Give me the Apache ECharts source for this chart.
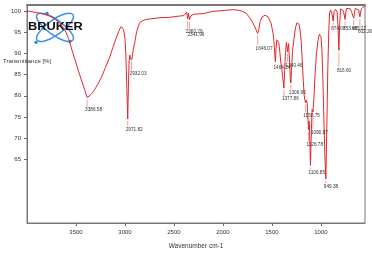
<!DOCTYPE html>
<html>
<head>
<meta charset="utf-8">
<script src="https://cdn.jsdelivr.net/npm/echarts@6/dist/echarts.min.js"></script>
<style>
  html, body { margin: 0; padding: 0; background: #fff; }
  #chart { width: 372px; height: 257px; }
</style>
</head>
<body>
<div id="chart"></div>
<script>
// spectrum (wavenumber cm-1 / transmittance %)
const wavenumbers = [4000,3900,3834,3770,3714,3660,3612,3575,3544,3510,3477,3440,3408,3386.58,3360,3330,3306,3270,3238,3200,3153,3120,3085,3060,3040,3030,3015,3000,2990,2980,2971.82,2965,2958,2950,2945,2940,2932.03,2925,2915,2900,2885,2870,2850,2820,2780,2714,2643,2541,2440,2400,2380,2370,2360.29,2352,2341.96,2330,2300,2200,2100,2000,1900,1850,1800,1760,1730,1700,1680,1660,1646.07,1635,1620,1600,1570,1540,1510,1490,1480,1470,1464.24,1458,1450,1440,1430,1420,1410,1400,1390,1377.86,1370,1362,1352,1340.46,1330,1320,1312,1306.95,1300,1290,1275,1260,1245,1235,1222,1210,1200,1190,1180,1170,1158.75,1150,1140,1126.78,1118,1106.85,1097,1090,1080.87,1070,1060,1045,1030,1015,1000,990,980,970,960,949.38,940,930,920,912,900,888,874.68,866,850,835,825,816.60,810,800,785,770,753.48,740,720,700,685,665.22,650,630,615,602.26,590,575,550];
const transmittance = [100.0,99.6,99.3,98.8,98.1,97.0,95.5,93.5,91.0,88.5,86.0,83.4,81.2,79.6,80.0,80.8,81.6,83.0,84.5,86.6,89.3,91.6,93.9,95.4,96.3,96.4,95.6,93.6,89.0,81.0,74.5,82.0,88.2,89.6,88.9,89.3,88.4,89.2,91.0,92.6,94.6,96.0,97.2,97.7,98.0,98.2,98.4,98.5,98.8,98.9,99.3,99.7,98.1,99.5,97.9,98.8,99.2,99.4,99.9,100.1,100.3,100.2,99.9,99.4,98.5,97.4,96.5,95.5,94.7,95.6,97.5,98.6,99.0,98.6,97.2,95.0,93.0,89.6,88.0,91.0,93.2,93.5,92.5,90.5,88.0,86.5,84.5,81.8,86.0,90.0,92.6,90.4,92.3,88.0,84.2,83.0,86.0,90.5,93.5,96.0,97.2,97.4,96.8,95.0,92.5,88.0,83.5,80.0,78.4,79.0,78.2,72.0,74.0,63.6,72.0,76.8,76.2,80.0,85.0,90.0,93.0,94.5,94.0,91.0,84.0,75.0,66.0,60.4,72.0,86.0,95.0,99.5,100.2,99.5,97.6,99.8,100.4,99.8,96.0,90.7,96.0,100.5,100.8,100.0,98.0,100.6,101.0,100.5,99.6,98.3,100.6,101.0,100.2,98.6,100.3,100.8,101.2];

// picked peaks
const peakNames = ['3386.58','2971.82','2932.03','2360.29','2341.96','1646.07','1464.24','1377.86','1340.46','1306.95','1158.75','1126.78','1106.85','1080.87','949.38','874.68','816.60','753.48','665.22','602.26'];

const yTicks = [65, 70, 75, 80, 85, 90, 95, 100];
const xTicks = [1000, 1500, 2000, 2500, 3000, 3500];

// where each peak label sits (transmittance level), layout only
const labelLevel = [76.6,72.1,85.3,95.2,94.5,91.2,86.5,79.2,87.2,80.8,75.4,68.5,61.9,71.4,58.6,95.9,86.0,95.9,95.9,95.0];

const spectrum = wavenumbers.map((w, i) => [w, transmittance[i]]);
const peaks = peakNames.map((n, i) => {
  const w = parseFloat(n);
  const idx = wavenumbers.indexOf(w);
  return [w, transmittance[idx], labelLevel[i]];
});

const font = 'Liberation Sans, Arial, sans-serif';
const plain = v => String(v);
const chart = echarts.init(document.getElementById('chart'));

chart.setOption({
  animation: false,
  backgroundColor: '#fff',
  grid: { left: 27, top: 5, right: 7, bottom: 34, show: true, borderColor: '#777', borderWidth: 1 },
  xAxis: [{
    type: 'value', inverse: true, min: 550, max: 4000,
    name: 'Wavenumber cm-1', nameLocation: 'middle', nameGap: 20,
    nameTextStyle: { fontSize: 6.5, color: '#333', fontFamily: font },
    splitLine: { show: false },
    axisLine: { show: true, lineStyle: { color: '#777' } },
    axisTick: { customValues: xTicks, length: 3, lineStyle: { color: '#666' } },
    axisLabel: { customValues: xTicks, formatter: plain, fontSize: 6, color: '#333', margin: 6, fontFamily: font }
  }, {
    // heavier top frame
    type: 'value', position: 'top', inverse: true, min: 550, max: 4000,
    splitLine: { show: false },
    axisLine: { show: true, lineStyle: { color: '#777', width: 2 } },
    axisTick: { show: false }, axisLabel: { show: false }
  }],
  yAxis: {
    type: 'value', min: 50, max: 101.4,
    splitLine: { show: false },
    axisLine: { show: true, lineStyle: { color: '#777' } },
    axisTick: { customValues: yTicks, length: 3, lineStyle: { color: '#666' } },
    axisLabel: { customValues: yTicks, formatter: plain, fontSize: 6, color: '#333', margin: 6, fontFamily: font }
  },
  graphic: [
    { type: 'text', left: 3, top: 58, z: 10,
      style: { text: 'Transmittance [%]', fontSize: 6, fill: '#333', fontFamily: font } },
    { type: 'group', left: 28, top: 5, z: 5, children: [
      { type: 'ellipse', shape: { cx: 27, cy: 18, rx: 22, ry: 7.5 }, rotation: 0.62, originX: 27, originY: 18,
        style: { fill: 'none', stroke: '#3f8fe0', lineWidth: 1.5 } },
      { type: 'ellipse', shape: { cx: 27, cy: 18, rx: 22, ry: 7.5 }, rotation: -0.62, originX: 27, originY: 18,
        style: { fill: 'none', stroke: '#3f8fe0', lineWidth: 1.5 } },
      { type: 'circle', shape: { cx: 19, cy: 4, r: 1.6 }, style: { fill: '#2f7fd6' } },
      { type: 'circle', shape: { cx: 8, cy: 33, r: 1.6 }, style: { fill: '#2f7fd6' } },
      { type: 'circle', shape: { cx: 42, cy: 32, r: 1.6 }, style: { fill: '#2f7fd6' } },
      { type: 'text', x: 0, y: 18, scaleX: 1.28,
        style: { text: 'BRUKER', fontSize: 10, fontWeight: 'bold', fill: '#111', fontFamily: font, verticalAlign: 'middle' } }
    ] }
  ],
  series: [
    {
      type: 'line', data: spectrum, showSymbol: false, z: 3,
      lineStyle: { color: '#e3262b', width: 1 }
    },
    {
      type: 'custom', data: peaks, z: 4,
      renderItem: function (params, api) {
        const p = api.coord([api.value(0), api.value(1)]);
        const l = api.coord([api.value(0), api.value(2)]);
        return {
          type: 'group', children: [
            { type: 'line', shape: { x1: p[0], y1: p[1] + 2, x2: p[0], y2: l[1] - 3 },
              style: { stroke: '#f2a0a0', lineWidth: 1 } },
            { type: 'text', x: p[0] - 2, y: l[1],
              style: { text: peakNames[params.dataIndex], fontSize: 4.7, fill: '#333', fontFamily: font, verticalAlign: 'middle', align: 'left' } }
          ]
        };
      }
    }
  ]
});
</script>
</body>
</html>
